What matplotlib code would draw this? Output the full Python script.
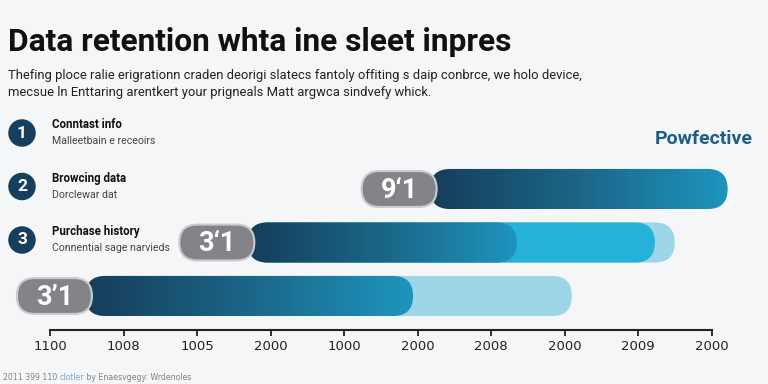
import matplotlib
matplotlib.use("Agg")
import matplotlib.pyplot as plt
from matplotlib.patches import FancyBboxPatch
from matplotlib.colors import LinearSegmentedColormap
import numpy as np

# --- data ---
row_numbers = ["1", "2", "3"]
row_titles = ["Conntast info", "Browcing data", "Purchase history"]
row_subtitles = ["Malleetbain e receoirs", "Dorclewar dat", "Connential sage narvieds"]

bar_rows = [0, 1, 2]
bar_labels = ["9\u20181", "3\u20181", "3\u02bc1"]
bar_start = [5.17, 2.69, 0.48]
gradient_end = [9.22, 6.35, 4.94]
cyan_end = [9.22, 8.23, 4.94]
light_end = [9.22, 8.50, 7.10]

tick_pos = [0, 1, 2, 3, 4, 5, 6, 7, 8, 9]
tick_labels = ["1100", "1008", "1005", "2000", "1000", "2000", "2008", "2000", "2009", "2000"]

title = "Data retention whta ine sleet inpres"
subtitle = ("Thefing ploce ralie erigrationn craden deorigi slatecs fantoly offiting s daip conbrce, we holo device,\n"
            "mecsue ln Enttaring arentkert your prigneals Matt argwca sindvefy whick.")
brand = "Powfective"
footnote = [("2011 399 110 ", "#808080"), ("clotler", "#6fa6d6"), (" by Enaesvgegy: Wrdenoles", "#808080")]

bg = "#f5f6f8"
navy = "#163f5e"
grad_cmap = LinearSegmentedColormap.from_list("g", ["#163d5a", "#1b6688", "#1e95be"])

fig = plt.figure(figsize=(7.68, 3.84), dpi=100, facecolor=bg)
ax = fig.add_axes([0, 0.1406, 1, 0.4427])
ax.set_facecolor(bg)

bar_h = 0.75
pill_h = 0.67
aspect = 73.5 / 53.5  # pixels per x unit / pixels per y unit


def rounded(x0, x1, yc, h, **kw):
    return FancyBboxPatch((x0, yc - h / 2), x1 - x0, h,
                          boxstyle=f"round,pad=0,rounding_size={h / 2 / aspect}",
                          mutation_aspect=aspect, **kw)


for r, lab, s, g, c, l in zip(bar_rows, bar_labels, bar_start, gradient_end, cyan_end, light_end):
    if l > c:
        ax.add_patch(rounded(s, l, r, bar_h, fc="#9dd5e9", ec="none", zorder=1))
    if c > g:
        ax.add_patch(rounded(s, c, r, bar_h, fc="#26b2d8", ec="none", zorder=2))
    p = rounded(s, g, r, bar_h, fc="none", ec="none", zorder=3)
    ax.add_patch(p)
    im = ax.imshow(np.linspace(0, 1, 256)[None, :], cmap=grad_cmap, aspect="auto",
                   extent=[s, g, r + bar_h / 2, r - bar_h / 2], zorder=3)
    im.set_clip_path(p)
    # gray value pill overlapping the start of the bar
    ax.add_patch(rounded(s - 0.93, s + 0.09, r, pill_h, fc="#828487", ec="#c9cbcd", lw=1.5, zorder=4))
    ax.text(s - 0.42, r + 0.02, lab, color="white", fontsize=19.5, fontweight="bold",
            ha="center", va="center", family="Roboto", zorder=5)

ax.set_xlim(-50 / 73.5, 718 / 73.5)
ax.set_ylim(2.636, -0.542)
ax.set_yticks([])
ax.set_xticks(tick_pos)
ax.set_xticklabels(tick_labels, fontsize=9.5, color="#222222",
                   family=["Liberation Sans Narrow", "DejaVu Sans"])
ax.tick_params(axis="x", length=4, width=1.3, color="#222222", pad=3)
for sp in ["top", "left", "right"]:
    ax.spines[sp].set_visible(False)
ax.spines["bottom"].set_bounds(0, 9)
ax.spines["bottom"].set_linewidth(1.5)
ax.spines["bottom"].set_color("#222222")

# header
fig.text(8 / 768, 1 - 51 / 384, title, fontsize=22.8, fontweight="bold", color="#111111",
         family="Roboto", va="baseline")
fig.text(8 / 768, 1 - 96 / 384, subtitle, fontsize=9.4, color="#222222",
         family="Roboto", va="baseline", linespacing=1.45)
fig.text(753 / 768, 1 - 139 / 384, brand, fontsize=14, fontweight="bold", color="#1f5f86",
         family="Roboto", ha="right", va="center")

# numbered rows on the left
for i, (n, t, st) in enumerate(zip(row_numbers, row_titles, row_subtitles)):
    yc = 133 + 53.5 * i
    fig.text(22 / 768, 1 - yc / 384, n, fontsize=12.5, fontweight="bold", color="white",
             ha="center", va="center", family="Roboto",
             bbox=dict(boxstyle="circle,pad=0.32", fc=navy, ec=navy))
    fig.text(52 / 768, 1 - (yc - 8) / 384, t, fontsize=8.3, fontweight="bold", color="#111111",
             va="center", family="Roboto")
    fig.text(52 / 768, 1 - (yc + 8) / 384, st, fontsize=7.6, color="#444444",
             va="center", family="Roboto")

# footnote: pieces placed one after another
fig.canvas.draw()
x = 3
for txt, col in footnote:
    t = fig.text(x / 768, 1 - 377 / 384, txt, fontsize=5.6, color=col, va="center",
                 family=["Liberation Sans Narrow", "DejaVu Sans"])
    x = t.get_window_extent(renderer=fig.canvas.get_renderer()).x1

fig.savefig("out.png", dpi=100, facecolor=bg)
